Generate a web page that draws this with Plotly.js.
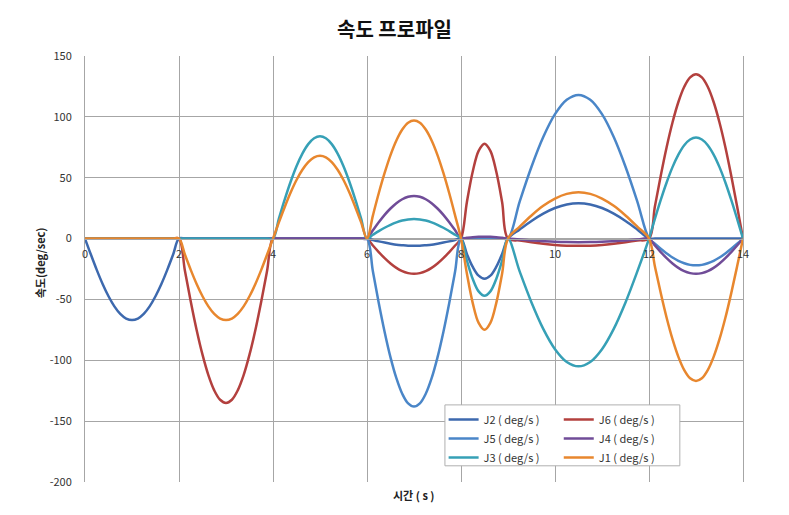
<!DOCTYPE html>
<html>
<head>
<meta charset="utf-8">
<script src="https://cdn.plot.ly/plotly-3.0.1.min.js"></script>
<style>html,body{margin:0;padding:0;background:#fff;}#chart{width:789px;height:515px;}</style>
</head>
<body>
<div id="chart"></div>
<script>
// time (s)
const time = [0, 0.125, 0.25, 0.375, 0.5, 0.625, 0.75, 0.875, 1, 1.125, 1.25, 1.375, 1.5, 1.625, 1.75, 1.875, 2,
  2.125, 2.25, 2.375, 2.5, 2.625, 2.75, 2.875, 3, 3.125, 3.25, 3.375, 3.5, 3.625, 3.75, 3.875, 4,
  4.125, 4.25, 4.375, 4.5, 4.625, 4.75, 4.875, 5, 5.125, 5.25, 5.375, 5.5, 5.625, 5.75, 5.875, 6,
  6.125, 6.25, 6.375, 6.5, 6.625, 6.75, 6.875, 7, 7.125, 7.25, 7.375, 7.5, 7.625, 7.75, 7.875, 8,
  8.125, 8.25, 8.375, 8.5, 8.625, 8.75, 8.875, 9,
  9.25, 9.5, 9.75, 10, 10.25, 10.5, 10.75, 11, 11.25, 11.5, 11.75, 12,
  12.125, 12.25, 12.375, 12.5, 12.625, 12.75, 12.875, 13, 13.125, 13.25, 13.375, 13.5, 13.625, 13.75, 13.875, 14];

const J2 = [0, -13.1, -25.7, -37.3, -47.4, -55.7, -61.9, -65.7, -67, -65.7, -61.9, -55.7, -47.4, -37.3, -25.7, -13.1, 0,
  0, 0, 0, 0, 0, 0, 0, 0, 0, 0, 0, 0, 0, 0, 0, 0,
  0, 0, 0, 0, 0, 0, 0, 0, 0, 0, 0, 0, 0, 0, 0, 0,
  -1.2, -2.3, -3.3, -4.2, -5, -5.5, -5.9, -6, -5.9, -5.5, -5, -4.2, -3.3, -2.3, -1.2, 0,
  -12.6, -23.3, -30.5, -33, -30.5, -23.3, -12.6, 0,
  7.5, 14.5, 20.5, 25.1, 28, 29, 28, 25.1, 20.5, 14.5, 7.5, 0,
  0, 0, 0, 0, 0, 0, 0, 0, 0, 0, 0, 0, 0, 0, 0, 0];

const J6 = [0, 0, 0, 0, 0, 0, 0, 0, 0, 0, 0, 0, 0, 0, 0, 0, 0,
  -26.3, -51.7, -75.1, -95.4, -112.2, -124.7, -132.4, -135, -132.4, -124.7, -112.2, -95.4, -75.1, -51.7, -26.3, 0,
  0, 0, 0, 0, 0, 0, 0, 0, 0, 0, 0, 0, 0, 0, 0, 0,
  -5.7, -11.1, -16.1, -20.5, -24.1, -26.8, -28.4, -29, -28.4, -26.8, -24.1, -20.5, -16.1, -11.1, -5.7, 0,
  29.9, 55.1, 72.1, 78, 72.1, 55.1, 29.9, 0,
  -1.6, -3, -4.2, -5.2, -5.8, -6, -5.8, -5.2, -4.2, -3, -1.6, 0,
  26.3, 51.7, 75.1, 95.4, 112.2, 124.7, 132.4, 135, 132.4, 124.7, 112.2, 95.4, 75.1, 51.7, 26.3, 0];

const J5 = [0, 0, 0, 0, 0, 0, 0, 0, 0, 0, 0, 0, 0, 0, 0, 0, 0,
  0, 0, 0, 0, 0, 0, 0, 0, 0, 0, 0, 0, 0, 0, 0, 0,
  0, 0, 0, 0, 0, 0, 0, 0, 0, 0, 0, 0, 0, 0, 0, 0,
  -26.9, -52.9, -76.7, -97.6, -114.7, -127.5, -135.4, -138, -135.4, -127.5, -114.7, -97.6, -76.7, -52.9, -26.9, 0,
  0, 0, 0, 0, 0, 0, 0, 0,
  30.6, 59, 83.4, 102.2, 114, 118, 114, 102.2, 83.4, 59, 30.6, 0,
  -4.3, -8.4, -12.2, -15.6, -18.3, -20.3, -21.6, -22, -21.6, -20.3, -18.3, -15.6, -12.2, -8.4, -4.3, 0];

const J4 = [0, 0, 0, 0, 0, 0, 0, 0, 0, 0, 0, 0, 0, 0, 0, 0, 0,
  0, 0, 0, 0, 0, 0, 0, 0, 0, 0, 0, 0, 0, 0, 0, 0,
  0, 0, 0, 0, 0, 0, 0, 0, 0, 0, 0, 0, 0, 0, 0, 0,
  6.8, 13.4, 19.5, 24.7, 29.1, 32.3, 34.3, 35, 34.3, 32.3, 29.1, 24.7, 19.5, 13.4, 6.8, 0,
  0.6, 1.1, 1.4, 1.5, 1.4, 1.1, 0.6, 0,
  -0.8, -1.5, -2.1, -2.6, -2.9, -3, -2.9, -2.6, -2.1, -1.5, -0.8, 0,
  -5.7, -11.1, -16.1, -20.5, -24.1, -26.8, -28.4, -29, -28.4, -26.8, -24.1, -20.5, -16.1, -11.1, -5.7, 0];

const J3 = [0, 0, 0, 0, 0, 0, 0, 0, 0, 0, 0, 0, 0, 0, 0, 0, 0,
  0, 0, 0, 0, 0, 0, 0, 0, 0, 0, 0, 0, 0, 0, 0, 0,
  16.4, 32.2, 46.7, 59.4, 69.8, 77.6, 82.4, 84, 82.4, 77.6, 69.8, 59.4, 46.7, 32.2, 16.4, 0,
  3.1, 6.1, 8.9, 11.3, 13.3, 14.8, 15.7, 16, 15.7, 14.8, 13.3, 11.3, 8.9, 6.1, 3.1, 0,
  -18, -33.2, -43.4, -47, -43.4, -33.2, -18, 0,
  -27.2, -52.5, -74.2, -90.9, -101.4, -105, -101.4, -90.9, -74.2, -52.5, -27.2, 0,
  16.2, 31.8, 46.1, 58.7, 69, 76.7, 81.4, 83, 81.4, 76.7, 69, 58.7, 46.1, 31.8, 16.2, 0];

const J1 = [0, 0, 0, 0, 0, 0, 0, 0, 0, 0, 0, 0, 0, 0, 0, 0, 0,
  -13.1, -25.7, -37.3, -47.4, -55.7, -61.9, -65.7, -67, -65.7, -61.9, -55.7, -47.4, -37.3, -25.7, -13.1, 0,
  13.3, 26, 37.8, 48.1, 56.5, 62.8, 66.7, 68, 66.7, 62.8, 56.5, 48.1, 37.8, 26, 13.3, 0,
  18.9, 37.2, 53.9, 68.6, 80.6, 89.6, 95.2, 97, 95.2, 89.6, 80.6, 68.6, 53.9, 37.2, 18.9, 0,
  -28.7, -53, -69.3, -75, -69.3, -53, -28.7, 0,
  9.8, 19, 26.9, 32.9, 36.7, 38, 36.7, 32.9, 26.9, 19, 9.8, 0,
  -22.8, -44.8, -65.1, -82.7, -97.2, -108.1, -114.8, -117, -114.8, -108.1, -97.2, -82.7, -65.1, -44.8, -22.8, 0];

const seriesNames = ['J2 ( deg/s )', 'J6 ( deg/s )', 'J5 ( deg/s )', 'J4 ( deg/s )', 'J3 ( deg/s )', 'J1 ( deg/s )'];
const seriesData = [J2, J6, J5, J4, J3, J1];
const seriesColors = ['#3D69AE', '#B3403E', '#4A86C8', '#704C98', '#36A0B6', '#E8872E'];
const legendColumn = ['legend', 'legend2', 'legend', 'legend2', 'legend', 'legend2'];

const xTicks = [0, 2, 4, 6, 8, 10, 12, 14];
const yTicks = [-200, -150, -100, -50, 0, 50, 100, 150];

const FONT = '"Noto Sans CJK KR", "Noto Sans", sans-serif';

const traces = seriesData.map((d, i) => ({
  x: time, y: d, name: seriesNames[i], type: 'scatter', mode: 'lines',
  legend: legendColumn[i],
  line: {color: seriesColors[i], width: 2.5, shape: 'spline', smoothing: 1}
}));

const legendCommon = {
  orientation: 'v', xanchor: 'left', yanchor: 'top', y: 0.181,
  bgcolor: 'rgba(255,255,255,0)', borderwidth: 0,
  font: {family: FONT, size: 11, color: '#333'}, itemwidth: 30
};

const layout = {
  width: 789, height: 515,
  margin: {l: 85, r: 46, t: 56, b: 33},
  paper_bgcolor: '#ffffff', plot_bgcolor: '#ffffff',
  font: {family: FONT, size: 11, color: '#333'},
  showlegend: true,
  title: {text: '<b>속도 프로파일</b>', font: {family: FONT, size: 20, color: '#111'},
          x: 0.5, xref: 'container', y: 0.942, yref: 'container', yanchor: 'middle'},
  xaxis: {
    range: [0, 14], tickvals: xTicks, ticktext: xTicks.map(String),
    showgrid: true, gridcolor: '#a6a6a6', gridwidth: 1,
    zeroline: false, showline: true, linecolor: '#a6a6a6', linewidth: 1,
    anchor: 'free', position: 0.5704, automargin: false,
    ticks: 'outside', ticklen: 5, tickcolor: 'rgba(0,0,0,0)',
    tickfont: {family: FONT, size: 11, color: '#333'}
  },
  yaxis: {
    range: [-200, 150], tickvals: yTicks, ticktext: yTicks.map(String),
    showgrid: true, gridcolor: '#a6a6a6', gridwidth: 1, automargin: false,
    zeroline: false, showline: true, linecolor: '#a6a6a6', linewidth: 1, mirror: true,
    ticks: 'outside', ticklen: 10, tickcolor: 'rgba(0,0,0,0)',
    tickfont: {family: FONT, size: 11, color: '#333'}
  },
  legend: Object.assign({}, legendCommon, {x: 0.545}),
  legend2: Object.assign({}, legendCommon, {x: 0.72}),
  shapes: [
    {type: 'rect', xref: 'paper', yref: 'paper', x0: 0.547, x1: 0.904, y0: 0.038, y1: 0.181,
     fillcolor: '#ffffff', line: {color: '#b0b0b0', width: 1}, layer: 'above'}
  ],
  annotations: [
    {text: '<b>시간 ( s )</b>', xref: 'paper', yref: 'paper', x: 0.5, y: -0.03,
     xanchor: 'center', yanchor: 'middle', showarrow: false, font: {family: FONT, size: 11, color: '#222'}},
    {text: '<b>속도(deg/sec)</b>', xref: 'paper', yref: 'paper', x: -0.068, y: 0.514,
     xanchor: 'center', yanchor: 'middle', textangle: -90, showarrow: false, font: {family: FONT, size: 11, color: '#222'}}
  ]
};

Plotly.newPlot('chart', traces, layout, {displayModeBar: false, staticPlot: true});
</script>
</body>
</html>
